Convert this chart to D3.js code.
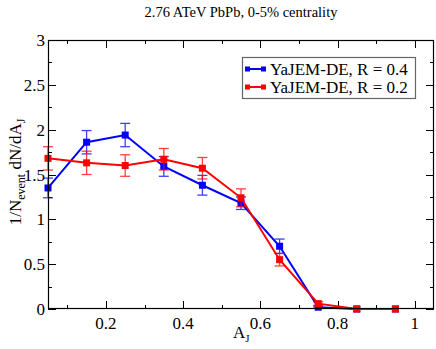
<!DOCTYPE html>
<html>
<head>
<meta charset="utf-8">
<script src="https://cdn.jsdelivr.net/npm/d3@7"></script>
<style>
body { margin: 0; background: #fff; }
</style>
</head>
<body>
<svg id="chart" width="436" height="349" font-family="'Liberation Serif', 'Times New Roman', Times, serif"></svg>
<script>
// data
var aj = [0.05, 0.15, 0.25, 0.35, 0.45, 0.55, 0.65, 0.75, 0.85, 0.95];
var r04 = [1.35, 1.86, 1.94, 1.59, 1.38, 1.18, 0.70, 0.02, 0.0, 0.0];
var r04err = [0.11, 0.13, 0.13, 0.11, 0.11, 0.07, 0.08, 0.01, 0.0, 0.0];
var r02 = [1.68, 1.63, 1.60, 1.67, 1.57, 1.24, 0.55, 0.06, 0.0, 0.0];
var r02err = [0.13, 0.13, 0.12, 0.12, 0.12, 0.10, 0.07, 0.02, 0.0, 0.0];
var xTicks = [0.2, 0.4, 0.6, 0.8, 1];
var yTicks = [0, 0.5, 1, 1.5, 2, 2.5, 3];

var pL = 48, pR = 434, pT = 40, pB = 309;

var svg = d3.select("#chart");

var x = d3.scaleLinear().domain([0.05, 1.05]).range([pL, pR]);
var y = d3.scaleLinear().domain([0, 3]).range([pB, pT]);

// title
svg.append("text")
    .attr("x", 241).attr("y", 17)
    .attr("text-anchor", "middle")
    .attr("font-size", 14.5)
    .text("2.76 ATeV PbPb, 0-5% centrality");

// ticks, all inward, on all four sides
var xMinor = d3.range(0.1, 1.05, 0.1);
var yMinor = d3.range(0, 3.01, 0.25);
var tk = svg.append("g").attr("stroke", "#000").attr("stroke-width", 1);

function xTickLines(vals, len) {
    vals.forEach(function (v) {
        var px = Math.round(x(v)) + 0.5;
        tk.append("line").attr("x1", px).attr("x2", px).attr("y1", pB).attr("y2", pB - len);
        tk.append("line").attr("x1", px).attr("x2", px).attr("y1", pT).attr("y2", pT + len);
    });
}
function yTickLines(vals, len) {
    vals.forEach(function (v) {
        var py = Math.round(y(v)) + 0.5;
        tk.append("line").attr("y1", py).attr("y2", py).attr("x1", pL).attr("x2", pL + len);
        tk.append("line").attr("y1", py).attr("y2", py).attr("x1", pR).attr("x2", pR - len);
    });
}
xTickLines(xMinor, 4);
xTickLines(xTicks, 8);
yTickLines(yMinor, 4);
yTickLines(yTicks, 8);

// tick labels
svg.append("g").selectAll("text")
    .data(xTicks).enter().append("text")
    .attr("x", function (d) { return x(d); })
    .attr("y", pB + 20)
    .attr("text-anchor", "middle")
    .attr("font-size", 17)
    .text(function (d) { return d; });

svg.append("g").selectAll("text")
    .data(yTicks).enter().append("text")
    .attr("x", pL - 3)
    .attr("y", function (d) { return y(d) + 6; })
    .attr("text-anchor", "end")
    .attr("font-size", 17)
    .text(function (d) { return d; });

// axis titles
var xl = svg.append("text")
    .attr("x", 233).attr("y", 338)
    .attr("font-size", 17);
xl.append("tspan").text("A");
xl.append("tspan").attr("font-size", 11).attr("dy", 4).text("J");

var yl = svg.append("text")
    .attr("transform", "translate(21,172) rotate(-90)")
    .attr("text-anchor", "middle")
    .attr("font-size", 17);
yl.append("tspan").text("1/N");
yl.append("tspan").attr("font-size", 12).attr("dy", 4).text("event");
yl.append("tspan").attr("dy", -4).text(" dN/dA");
yl.append("tspan").attr("font-size", 12).attr("dy", 4).text("J");

// series
var series = [
    { name: "YaJEM-DE, R = 0.4", vals: r04, err: r04err, color: "#0000ff" },
    { name: "YaJEM-DE, R = 0.2", vals: r02, err: r02err, color: "#ff0000" }
];

var line = d3.line()
    .x(function (d) { return x(d[0]); })
    .y(function (d) { return y(d[1]); });

var plot = svg.append("g");

series.forEach(function (s) {
    var pts = aj.map(function (a, i) { return [a, s.vals[i], s.err[i]]; });
    var g = plot.append("g");

    // error bars
    pts.forEach(function (p) {
        if (p[2] <= 0) return;
        var eb = g.append("g").attr("stroke", s.color).attr("stroke-width", 1.3).attr("opacity", 0.75);
        eb.append("line").attr("x1", x(p[0])).attr("x2", x(p[0]))
            .attr("y1", y(p[1] - p[2])).attr("y2", y(p[1] + p[2]));
        eb.append("line").attr("x1", x(p[0]) - 5).attr("x2", x(p[0]) + 5)
            .attr("y1", y(p[1] + p[2])).attr("y2", y(p[1] + p[2]));
        eb.append("line").attr("x1", x(p[0]) - 5).attr("x2", x(p[0]) + 5)
            .attr("y1", y(p[1] - p[2])).attr("y2", y(p[1] - p[2]));
    });

    g.append("path")
        .datum(pts)
        .attr("d", line)
        .attr("fill", "none")
        .attr("stroke", s.color)
        .attr("stroke-width", 2);

    g.selectAll("rect")
        .data(pts).enter().append("rect")
        .attr("x", function (d) { return x(d[0]) - 3.5; })
        .attr("y", function (d) { return y(d[1]) - 3.5; })
        .attr("width", 7).attr("height", 7)
        .attr("fill", s.color);
});

// frame
svg.append("rect")
    .attr("x", pL + 0.5).attr("y", pT + 0.5)
    .attr("width", pR - pL - 1).attr("height", pB - pT - 1)
    .attr("fill", "none").attr("stroke", "#000").attr("stroke-width", 1.2);

// legend
var lg = svg.append("g");
lg.append("rect")
    .attr("x", 242.5).attr("y", 57.5)
    .attr("width", 173).attr("height", 41)
    .attr("fill", "#fff").attr("stroke", "#666").attr("stroke-width", 1.2);

series.forEach(function (s, i) {
    var ly = 69 + i * 18;
    lg.append("line").attr("x1", 247).attr("x2", 264).attr("y1", ly).attr("y2", ly)
        .attr("stroke", s.color).attr("stroke-width", 2);
    lg.append("rect").attr("x", 245).attr("y", ly - 2.5).attr("width", 5).attr("height", 5).attr("fill", s.color);
    lg.append("rect").attr("x", 261).attr("y", ly - 2.5).attr("width", 5).attr("height", 5).attr("fill", s.color);
    lg.append("text").attr("x", 270).attr("y", ly + 6)
        .attr("font-size", 17)
        .text(s.name);
});
</script>
</body>
</html>
